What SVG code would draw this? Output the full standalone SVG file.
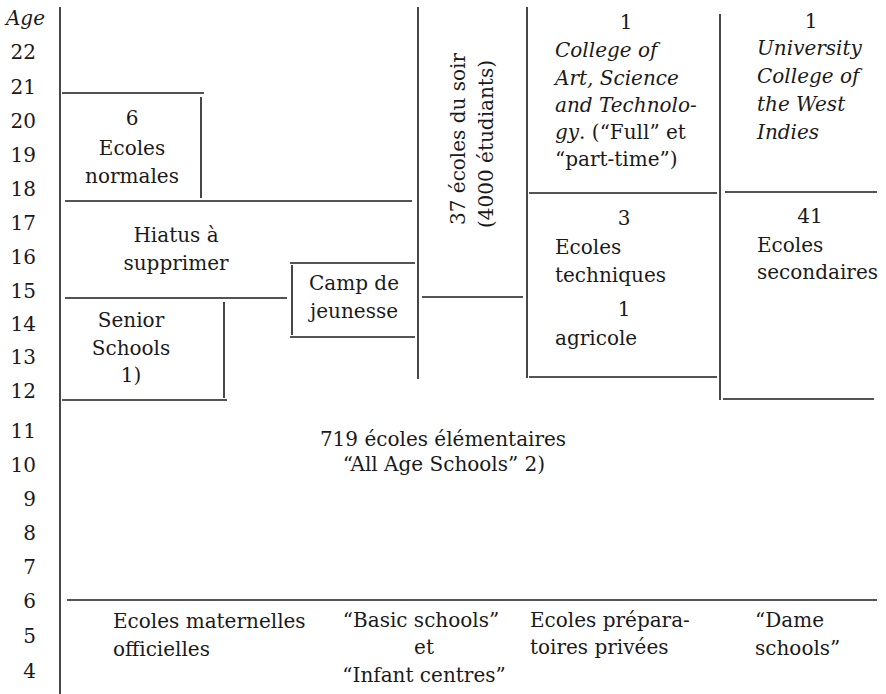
<svg xmlns="http://www.w3.org/2000/svg" width="886" height="694" viewBox="0 0 886 694">
<style>
text{font-family:"DejaVu Serif","Liberation Serif",serif;font-size:20px;fill:#1a1a1a}
.i{font-style:italic}
.m{text-anchor:middle}
.e{text-anchor:end}
line{stroke:#1a1a1a;stroke-width:1.6;stroke-linecap:butt}
</style>
<rect width="886" height="694" fill="#ffffff"/>
<g id="connectors">
<line x1="60" y1="7" x2="60" y2="694"/>
<line x1="62" y1="93" x2="204" y2="93"/>
<line x1="201" y1="97" x2="201" y2="198"/>
<line x1="65" y1="201" x2="412" y2="201"/>
<line x1="65" y1="298" x2="287" y2="298"/>
<line x1="224" y1="302" x2="224" y2="398"/>
<line x1="62" y1="400" x2="227" y2="400"/>
<line x1="290" y1="263" x2="415" y2="263"/>
<line x1="292" y1="265" x2="292" y2="335"/>
<line x1="290" y1="337" x2="415" y2="337"/>
<line x1="418" y1="7" x2="418" y2="379"/>
<line x1="422" y1="297" x2="523" y2="297"/>
<line x1="527" y1="7" x2="527" y2="378"/>
<line x1="529" y1="193" x2="717" y2="193"/>
<line x1="529" y1="377" x2="717" y2="377"/>
<line x1="720" y1="14" x2="720" y2="400"/>
<line x1="725" y1="192" x2="877" y2="192"/>
<line x1="723" y1="399" x2="874" y2="399"/>
<line x1="67" y1="600" x2="877" y2="600"/>
</g>
<g id="axis">
<text class="i e" x="45" y="25">Age</text>
<text class="e" x="36" y="59">22</text>
<text class="e" x="36" y="94">21</text>
<text class="e" x="36" y="128">20</text>
<text class="e" x="36" y="162">19</text>
<text class="e" x="36" y="196">18</text>
<text class="e" x="36" y="230">17</text>
<text class="e" x="36" y="264">16</text>
<text class="e" x="36" y="298">15</text>
<text class="e" x="36" y="331">14</text>
<text class="e" x="36" y="364">13</text>
<text class="e" x="36" y="398">12</text>
<text class="e" x="36" y="438">11</text>
<text class="e" x="36" y="472">10</text>
<text class="e" x="36" y="506">9</text>
<text class="e" x="36" y="540">8</text>
<text class="e" x="36" y="574">7</text>
<text class="e" x="36" y="608">6</text>
<text class="e" x="36" y="643">5</text>
<text class="e" x="36" y="678">4</text>
</g>
<g id="ecoles-normales">
<text class="m" x="132" y="125">6</text>
<text class="m" x="132" y="155">Ecoles</text>
<text class="m" x="132" y="183">normales</text>
</g>
<g id="hiatus">
<text class="m" x="176" y="242">Hiatus à</text>
<text class="m" x="176" y="270">supprimer</text>
</g>
<g id="senior-schools">
<text class="m" x="131" y="327">Senior</text>
<text class="m" x="131" y="355">Schools</text>
<text class="m" x="131" y="382">1)</text>
</g>
<g id="camp-jeunesse">
<text class="m" x="354" y="290">Camp de</text>
<text class="m" x="354" y="318">jeunesse</text>
</g>
<g id="ecoles-soir">
<text class="m" transform="translate(465,139) rotate(-90)">37 écoles du soir</text>
<text class="m" transform="translate(493,144) rotate(-90)">(4000 étudiants)</text>
</g>
<g id="college-art">
<text class="m" x="626" y="29">1</text>
<text class="i" x="555" y="57">College of</text>
<text class="i" x="555" y="85">Art, Science</text>
<text class="i" x="555" y="112">and Technolo-</text>
<text x="555" y="139"><tspan class="i">gy</tspan>. (“Full” et</text>
<text x="555" y="166">“part-time”)</text>
</g>
<g id="ecoles-techniques">
<text class="m" x="624" y="225">3</text>
<text x="555" y="254">Ecoles</text>
<text x="555" y="282">techniques</text>
<text class="m" x="624" y="316">1</text>
<text x="555" y="345">agricole</text>
</g>
<g id="university">
<text class="m" x="811" y="28">1</text>
<text class="i" x="757" y="55">University</text>
<text class="i" x="757" y="83">College of</text>
<text class="i" x="757" y="111">the West</text>
<text class="i" x="757" y="139">Indies</text>
</g>
<g id="ecoles-secondaires">
<text class="m" x="810" y="223">41</text>
<text x="757" y="252">Ecoles</text>
<text x="757" y="279">secondaires</text>
</g>
<g id="ecoles-elementaires">
<text class="m" x="443" y="446">719 écoles élémentaires</text>
<text class="m" x="444" y="471">“All Age Schools” 2)</text>
</g>
<g id="ecoles-maternelles">
<text x="113" y="628">Ecoles maternelles</text>
<text x="113" y="656">officielles</text>
</g>
<g id="basic-schools">
<text class="m" x="421" y="627">“Basic schools”</text>
<text class="m" x="424" y="654">et</text>
<text class="m" x="424" y="682">“Infant centres”</text>
</g>
<g id="ecoles-preparatoires">
<text x="530" y="627">Ecoles prépara-</text>
<text x="530" y="654">toires privées</text>
</g>
<g id="dame-schools">
<text x="755" y="627">“Dame</text>
<text x="755" y="655">schools”</text>
</g>
</svg>
